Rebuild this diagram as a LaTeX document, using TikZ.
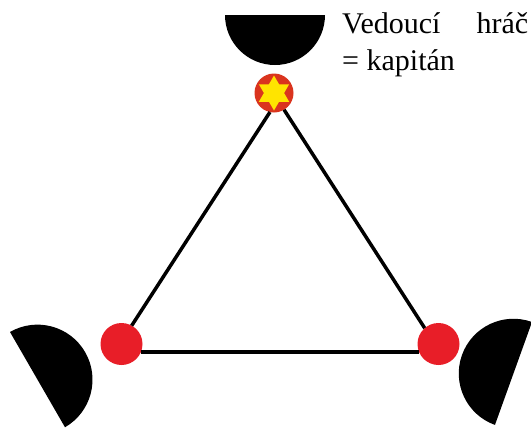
\documentclass[tikz,border=0pt]{standalone}
\usepackage{fontspec}
\setmainfont{Liberation Serif}

\begin{document}
\begin{tikzpicture}[x=1pt,y=-1pt]
    % Barvy
    \definecolor{hraccolor}{RGB}{232,30,40}
    \definecolor{kapcolor}{RGB}{218,52,30}
    \definecolor{hvezdacolor}{RGB}{255,228,0}

    \tikzset{
        hrac/.style={circle,fill=hraccolor,minimum size=42pt,inner sep=0pt,outer sep=0pt},
        spoj/.style={line width=3.5pt},
        popis/.style={inner sep=0pt,font=\fontsize{30}{36}\selectfont}
    }

    \useasboundingbox (0,0) rectangle (531,429);

    % Stiny (polokruhy)
    \fill (225,15) arc[start angle=180,end angle=0,radius=50] -- cycle;
    \fill (10,332) arc[start angle=-120,end angle=60,radius=55] -- cycle;
    \fill (532,322) arc[start angle=-70.2,end angle=-250.2,radius=54.7] -- cycle;

    % Hraci
    \node[hrac] (L) at (121.5,344) {};
    \node[hrac] (R) at (438.5,344) {};
    \node[hrac,fill=kapcolor,minimum size=39pt] (K) at (274,93) {};

    % Hvezda kapitana
    \fill[hvezdacolor] (K) +(90:17.5) -- +(210:17.5) -- +(330:17.5) -- cycle
                       (K) +(270:17.5) -- +(30:17.5) -- +(150:17.5) -- cycle;

    % Spojnice
    \draw[spoj] (K.258) -- (L.61);
    \draw[spoj] (K.301) -- (R.131);
    \draw[spoj] (L.-22) -- (R.202);

    % Popisek
    \node[popis,anchor=base west] (t1) at (342,33) {\makebox[186pt]{Vedoucí\hfill hráč}};
    \node[popis,anchor=base west] (t2) at (342,70) {= kapitán};

\end{tikzpicture}
\end{document}
